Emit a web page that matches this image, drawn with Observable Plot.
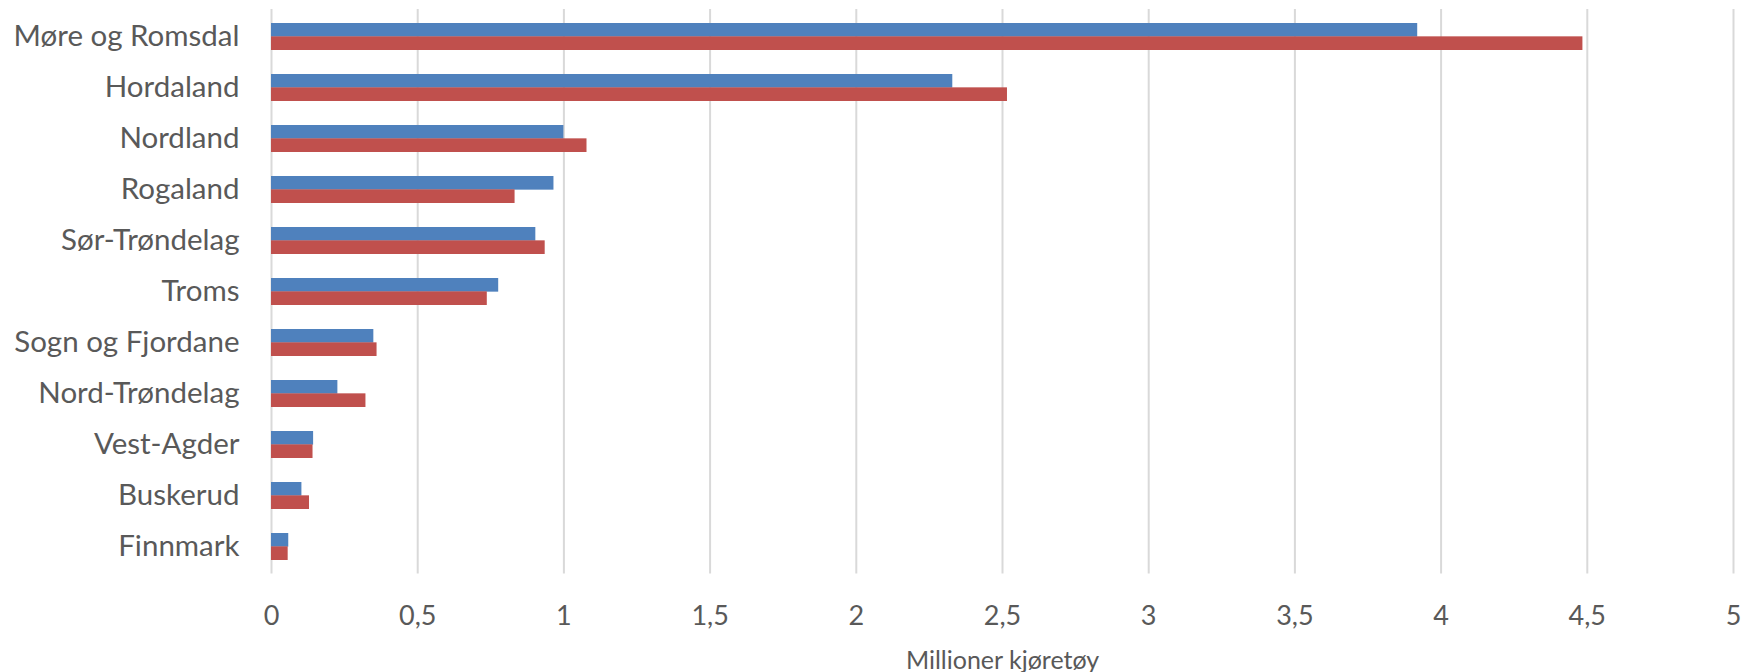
<!DOCTYPE html>
<html>
<head>
<meta charset="utf-8">
<script src="https://cdn.jsdelivr.net/npm/d3@7"></script>
<script src="https://cdn.jsdelivr.net/npm/@observablehq/plot@0.6"></script>
<style>
  html, body { margin: 0; padding: 0; background: #fff; }
  #chart svg { display: block; overflow: visible; }
</style>
</head>
<body>
<div id="chart"></div>
<script>
const regions = ["Møre og Romsdal", "Hordaland", "Nordland", "Rogaland", "Sør-Trøndelag", "Troms", "Sogn og Fjordane", "Nord-Trøndelag", "Vest-Agder", "Buskerud", "Finnmark"];
const seriesA = [3.92, 2.33, 1.00, 0.966, 0.904, 0.777, 0.350, 0.227, 0.144, 0.104, 0.059];
const seriesB = [4.485, 2.517, 1.079, 0.833, 0.936, 0.738, 0.361, 0.323, 0.142, 0.130, 0.057];
const xTicks = [0, 0.5, 1, 1.5, 2, 2.5, 3, 3.5, 4, 4.5, 5];
const xLabel = ["Millioner kjøretøy"];

const dataA = regions.map((r, i) => ({region: r, value: seriesA[i]}));
const dataB = regions.map((r, i) => ({region: r, value: seriesB[i]}));

const W = 1746, H = 672;
const mTop = 9, mBottom = 98.5, mLeft = 271, mRight = 13;
const step = (H - mTop - mBottom) / regions.length;
const bw = step * (1 - 0.48);
const half = bw / 2;

const chart = Plot.plot({
  width: W,
  height: H,
  marginTop: mTop,
  marginBottom: mBottom,
  marginLeft: mLeft,
  marginRight: mRight,
  style: {fontFamily: "Lato, 'Open Sans', sans-serif", color: "#595959", background: "#fff"},
  x: {domain: [0, 5], ticks: xTicks},
  y: {domain: regions, paddingInner: 0.48, paddingOuter: 0.24},
  marks: [
    Plot.ruleX(xTicks, {stroke: "#d9d9d9", strokeWidth: 2}),
    Plot.barX(dataA, {x: "value", y: "region", fill: "#4F81BD", insetBottom: half}),
    Plot.barX(dataB, {x: "value", y: "region", fill: "#C0504D", insetTop: half}),
    Plot.axisX({ticks: xTicks, tickSize: 0, tickPadding: 32, fontSize: 27, label: null,
      tickFormat: d => String(d).replace(".", ",")}),
    Plot.axisY({tickSize: 0, tickPadding: 32, fontSize: 29.5, label: null}),
    Plot.text(xLabel, {text: d => d, frameAnchor: "bottom", dy: 95, fontSize: 25, fill: "#595959"})
  ]
});
document.getElementById("chart").appendChild(chart);
</script>
</body>
</html>
